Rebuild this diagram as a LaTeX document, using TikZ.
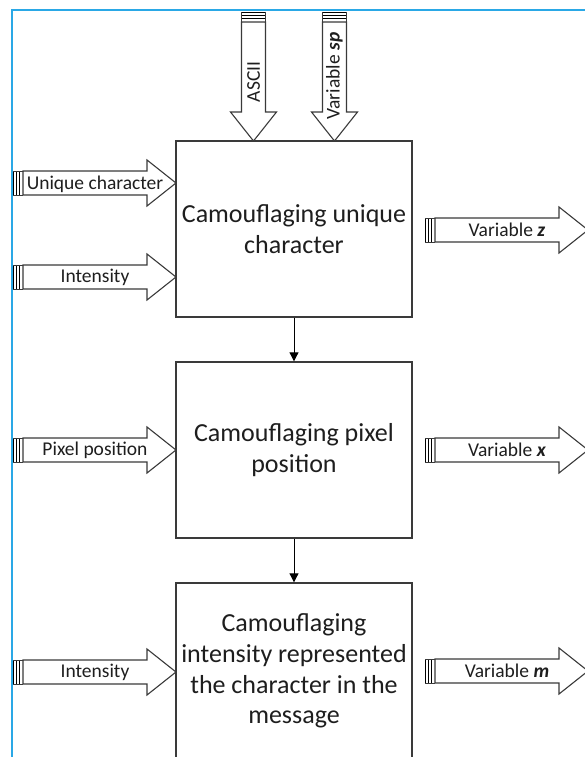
\documentclass[tikz,border=0pt]{standalone}
\usepackage{fontspec}
\setmainfont{Carlito}
\usetikzlibrary{arrows.meta,calc}
\definecolor{framecol}{HTML}{2AA8E6}
\definecolor{edgecol}{HTML}{3A3A3A}
\definecolor{inkcol}{HTML}{1E1E1E}
\tikzset{
  stage/.style={draw=edgecol, line width=1.4pt, fill=white,
    minimum width=236pt, minimum height=176pt, inner sep=0pt,
    align=center, text=inkcol, font=\fontsize{26}{30.6}\selectfont},
  flowlink/.style={draw=black, line width=1pt, -{Triangle[length=9pt,width=9pt]}},
  fatlabel/.style={text=inkcol, font=\fontsize{19.5}{20}\selectfont, inner sep=0pt},
  % block arrow with a striped tail; #1 = length from tail to tip
  pics/fatarrow/.style={code={
    \draw[edgecol, line width=1.1pt, fill=white, line join=miter]
      (0,-12) -- (#1-29,-12) -- (#1-29,-23) -- (#1,0) -- (#1-29,23)
      -- (#1-29,12) -- (0,12) -- cycle;
    \foreach \s in {-10,-7,-4} \draw[black, line width=0.9pt] (\s,-12) -- (\s,12);
    \draw[edgecol, line width=0.9pt] (-10,-12) -- (0,-12) (-10,12) -- (0,12);
  }},
}
\begin{document}
\begin{tikzpicture}[x=1pt,y=-1pt]
\useasboundingbox (0,0) rectangle (584,757);
% frame
\draw[framecol, line width=2pt] (11.5,800) -- (11.5,10.5) -- (620,10.5);

% process stages
\node[stage] (b1) at (294,229) {Camouflaging unique\\character};
\node[stage] (b2) at (294,450) {Camouflaging pixel\\position};
\node[stage] (b3) at (294,671) {Camouflaging\\intensity represented\\the character in the\\message};

\draw[flowlink] (b1.south) -- (b2.north);
\draw[flowlink] (b2.south) -- (b3.north);

% inputs from above
\pic[rotate=-90] at (253.5,22) {fatarrow=119};
\pic[rotate=-90] at (334.5,22) {fatarrow=119};
\node[fatlabel, rotate=90] (ascii) at (253.5,82) {ASCII};
\node[fatlabel, rotate=90] (vsp) at (334.5,76) {Variable \textbf{\textit{sp}}};

% inputs from the left
\pic at (23,183) {fatarrow=153};
\pic at (23,277) {fatarrow=153};
\pic at (23,450) {fatarrow=153};
\pic at (23,672) {fatarrow=153};
\node[fatlabel] (uc) at (95,184) {Unique character};
\node[fatlabel] (in1) at (95,277) {Intensity};
\node[fatlabel] (pp) at (95,450) {Pixel position};
\node[fatlabel] (in2) at (95,672) {Intensity};

% outputs to the right
\pic at (435,230) {fatarrow=153};
\pic at (435,450) {fatarrow=153};
\pic at (435,671) {fatarrow=153};
\node[fatlabel] (vz) at (507,230) {Variable \textbf{\textit{z}}};
\node[fatlabel] (vx) at (507,450) {Variable \textbf{\textit{x}}};
\node[fatlabel] (vm) at (507,671) {Variable \textbf{\textit{m}}};
\end{tikzpicture}
\end{document}
